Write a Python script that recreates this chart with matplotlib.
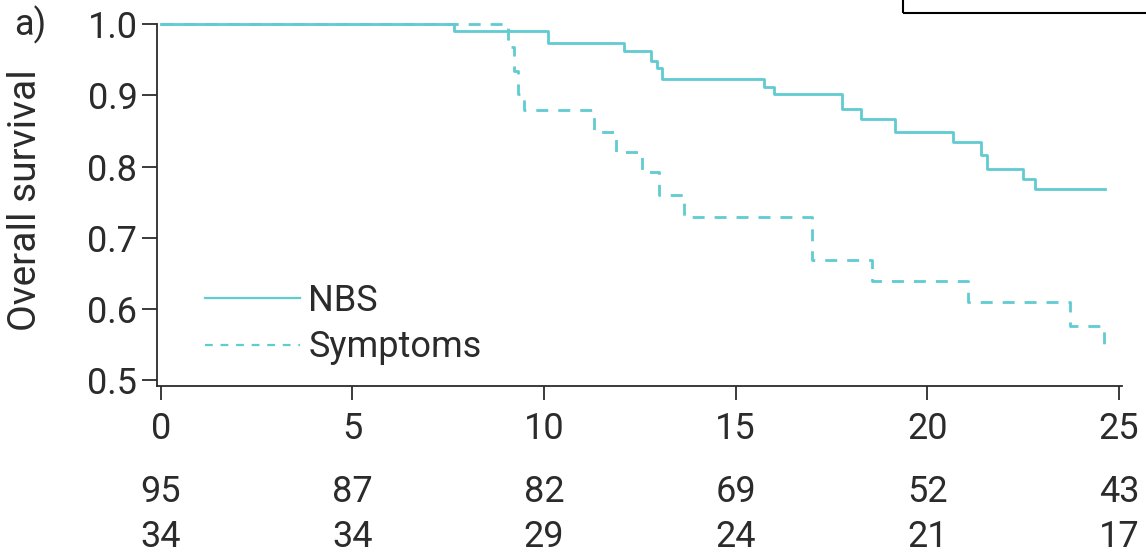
import matplotlib
matplotlib.use("Agg")
import matplotlib.pyplot as plt
from matplotlib.lines import Line2D
from matplotlib.patches import Rectangle

# Kaplan-Meier steps
nbs_time = [0, 7.65, 10.11, 12.10, 12.78, 12.94, 13.09, 15.75, 16.01, 17.78, 18.26,
            19.16, 20.66, 21.39, 21.55, 22.49, 22.81, 24.64]
nbs_surv = [1.0, 0.991, 0.974, 0.963, 0.949, 0.938, 0.923, 0.912, 0.902, 0.881, 0.867,
            0.848, 0.834, 0.817, 0.797, 0.783, 0.769, 0.769]

sym_time = [0, 9.07, 9.23, 9.33, 9.49, 11.30, 11.88, 12.55, 13.00, 13.65, 17.00,
            18.55, 21.07, 23.72, 24.61]
sym_surv = [1.0, 0.968, 0.934, 0.902, 0.879, 0.849, 0.821, 0.793, 0.760, 0.729, 0.669,
            0.639, 0.610, 0.576, 0.545]

x_ticks = [0, 5, 10, 15, 20, 25]
y_ticks = [0.5, 0.6, 0.7, 0.8, 0.9, 1.0]
at_risk_nbs = [95, 87, 82, 69, 52, 43]
at_risk_sym = [34, 34, 29, 24, 21, 17]

teal = "#60cbd1"
dark = "#2b2b2b"
plt.rcParams['font.family'] = ['Roboto', 'DejaVu Sans']

fig = plt.figure(figsize=(11.46, 5.6), dpi=100)
ax = fig.add_axes([0.1369, 0.3107, 0.8421, 0.6459])

ax.step(nbs_time, nbs_surv, where='post', color=teal, lw=2, clip_on=False)
ax.step(sym_time, sym_surv, where='post', color=teal, lw=2, clip_on=False,
        linestyle=(0, (4.3, 3.6)))

ax.set_xlim(-0.1, 25.08)
ax.set_ylim(0.4916, 1.0)
ax.set_xticks(x_ticks)
ax.set_yticks(y_ticks)
ax.set_yticklabels([f"{v:.1f}" for v in y_ticks])

for side in ['top', 'right']:
    ax.spines[side].set_visible(False)
for side in ['left', 'bottom']:
    ax.spines[side].set_color(dark)
    ax.spines[side].set_linewidth(1.3)

ax.tick_params(axis='x', direction='out', length=10, width=1.3, color=dark,
               pad=8, labelsize=26, labelcolor=dark)
ax.tick_params(axis='y', direction='out', length=11, width=1.3, color=dark,
               pad=3, labelsize=26, labelcolor=dark)

ax.set_ylabel("Overall survival", fontsize=28, color=dark)
ax.yaxis.set_label_coords(-0.117, 0.514)

# numbers at risk
for x, a, b in zip(x_ticks, at_risk_nbs, at_risk_sym):
    ax.annotate(str(a), (x, 1 - 492 / 560), xycoords=('data', 'figure fraction'),
                ha='center', va='center', fontsize=26, color=dark)
    ax.annotate(str(b), (x, 1 - 537 / 560), xycoords=('data', 'figure fraction'),
                ha='center', va='center', fontsize=26, color=dark)

handles = [Line2D([], [], color=teal, lw=1.6),
           Line2D([], [], color=teal, lw=1.6, linestyle=(0, (3.5, 3.5)))]
ax.legend(handles, ["NBS", "Symptoms"], loc='upper left',
          bbox_to_anchor=(0.0498, 0.286), frameon=False, fontsize=26,
          handlelength=2.64, handletextpad=0.22, labelspacing=0.3,
          borderpad=0, borderaxespad=0, labelcolor=dark)

fig.text(30 / 1146, 1 - 25 / 560, "a)", fontsize=26, color=dark,
         ha='center', va='center')

# cropped box in the top right corner
fig.patches.append(Rectangle((903 / 1146, 1 - 13 / 560), 0.3, 0.1,
                             transform=fig.transFigure, fill=False,
                             edgecolor='black', lw=1.5))

plt.savefig("out.png", dpi=100)
